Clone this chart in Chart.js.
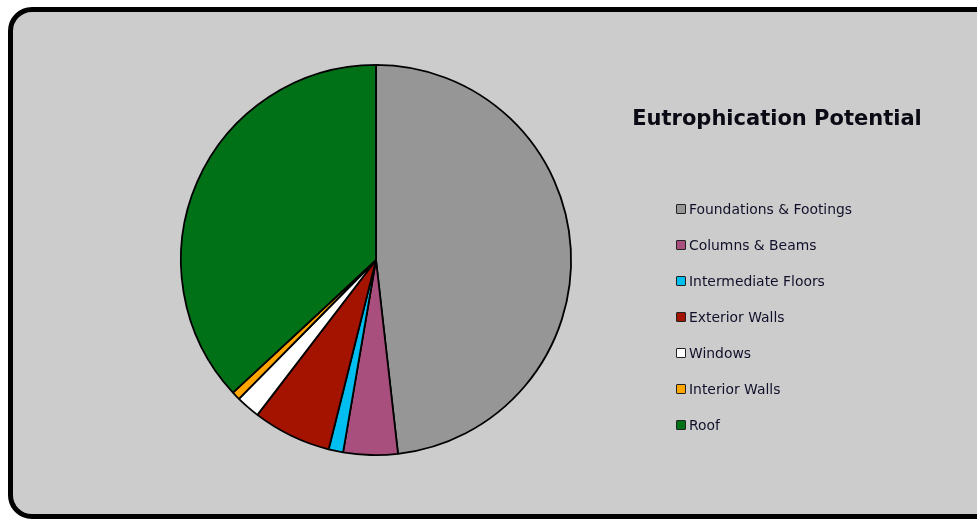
<!DOCTYPE html>
<html lang="en">
<head>
    <meta charset="UTF-8">
    <title>Eutrophication Potential</title>
    <script src="https://cdn.jsdelivr.net/npm/chart.js"></script>
    <style>
        body {
            margin: 0;
            background: #fff;
            width: 977px;
            height: 519px;
            overflow: hidden;
            position: relative;
            font-family: "DejaVu Sans", Verdana, sans-serif;
        }

        .frame {
            position: absolute;
            left: 8px;
            top: 7px;
            width: 990px;
            height: 502px;
            border: 5px solid #000;
            border-radius: 24px;
            background: #cccccc;
        }

        #pieChart {
            position: absolute;
            left: 0;
            top: 0;
        }

        .chart-title {
            position: absolute;
            left: 577px;
            width: 400px;
            top: 106px;
            text-align: center;
            font-weight: bold;
            font-size: 21px;
            color: #0a0a14;
        }

        #legend ul {
            position: absolute;
            left: 676px;
            top: 199px;
            margin: 0;
            padding: 0;
            list-style: none;
        }

        #legend li {
            height: 36px;
            display: flex;
            align-items: flex-start;
            font-size: 13.9px;
            color: #10102a;
            line-height: 20px;
        }

        #legend li span.box {
            display: inline-block;
            width: 8px;
            height: 8px;
            border: 1.5px solid #222;
            border-radius: 1px;
            margin: 5px 3px 0 0;
        }
    </style>
</head>
<body>
    <div class="frame"></div>
    <canvas id="pieChart" width="977" height="519"></canvas>
    <div class="chart-title">Eutrophication Potential</div>
    <div id="legend"></div>

    <script>
        var categories = ['Foundations & Footings', 'Columns & Beams', 'Intermediate Floors',
            'Exterior Walls', 'Windows', 'Interior Walls', 'Roof'];
        var shares = [48.2, 4.5, 1.2, 6.5, 2.0, 0.7, 36.9];
        var sliceColors = ['#969696', '#a94f7e', '#00bff0', '#a31300', '#ffffff', '#ffa500', '#017118'];

        // builds the list on the right from the chart's own legend items
        var htmlLegend = {
            id: 'htmlLegend',
            afterUpdate: function (chart) {
                var items = chart.options.plugins.legend.labels.generateLabels(chart);
                var ul = document.createElement('ul');
                items.forEach(function (item) {
                    var li = document.createElement('li');
                    var box = document.createElement('span');
                    box.className = 'box';
                    box.style.background = item.fillStyle;
                    li.appendChild(box);
                    li.appendChild(document.createTextNode(item.text));
                    ul.appendChild(li);
                });
                var holder = document.getElementById('legend');
                holder.innerHTML = '';
                holder.appendChild(ul);
            }
        };

        var pieChart = new Chart(document.getElementById('pieChart'), {
            type: 'pie',
            data: {
                labels: categories,
                datasets: [{
                    data: shares,
                    backgroundColor: sliceColors,
                    borderColor: '#000',
                    borderWidth: 1.8
                }]
            },
            options: {
                responsive: false,
                animation: false,
                layout: {
                    padding: { left: 180, top: 64, right: 405, bottom: 63 }
                },
                plugins: {
                    legend: { display: false },
                    tooltip: { enabled: false }
                }
            },
            plugins: [htmlLegend]
        });
    </script>
</body>
</html>
